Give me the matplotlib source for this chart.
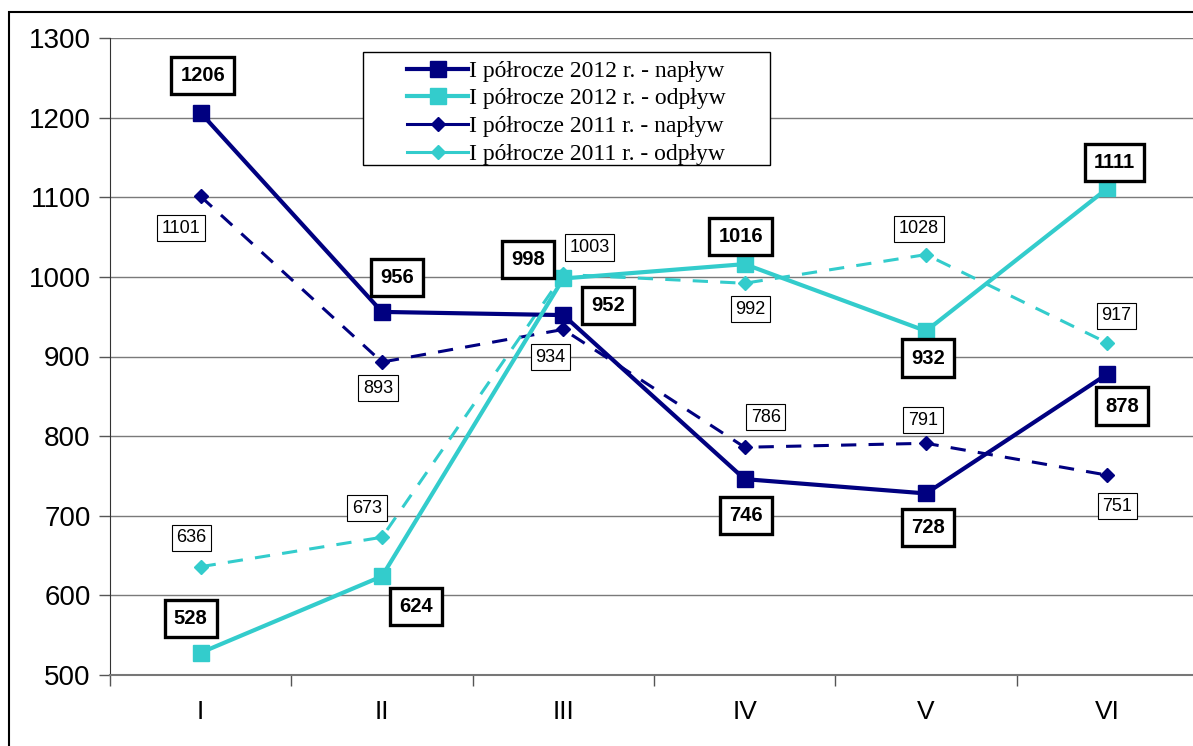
import matplotlib
matplotlib.use("Agg")
import matplotlib.pyplot as plt
from matplotlib.patches import Rectangle

months = ["I", "II", "III", "IV", "V", "VI"]
naplyw_2012 = [1206, 956, 952, 746, 728, 878]
odplyw_2012 = [528, 624, 998, 1016, 932, 1111]
naplyw_2011 = [1101, 893, 934, 786, 791, 751]
odplyw_2011 = [636, 673, 1003, 992, 1028, 917]
series_names = ["I półrocze 2012 r. - napływ", "I półrocze 2012 r. - odpływ",
                "I półrocze 2011 r. - napływ", "I półrocze 2011 r. - odpływ"]
y_ticks = [500, 600, 700, 800, 900, 1000, 1100, 1200, 1300]

# label offsets in pixels (dx, dy up positive)
off_n12 = [(2, 37), (15, 34), (45, 10), (1, -36), (2, -34), (15, -32)]
off_o12 = [(-10, 34), (34, -30), (-35, 19), (-4, 28), (2, -27), (7, 26)]
off_n11 = [(-20, -32), (-4, -26), (-13, -28), (21, 30), (-3, 23), (10, -31)]
off_o11 = [(-9, 29), (-15, 29), (26, 27), (6, -26), (-7, 26), (9, 27)]

NAVY = "#000080"
TURQ = "#33CCCC"

W, H = 1193, 746
fig = plt.figure(figsize=(W / 100, H / 100), dpi=100)
ax = fig.add_axes([110 / W, 1 - 675 / H, 1088 / W, (675 - 38) / H])

x = list(range(len(months)))
ax.plot(x, naplyw_2011, color=NAVY, lw=2.2, ls=(0, (5, 4)), marker="D", ms=7,
        label=series_names[2], zorder=3)
ax.plot(x, odplyw_2011, color=TURQ, lw=2.2, ls=(0, (5, 4)), marker="D", ms=7,
        label=series_names[3], zorder=3)
ax.plot(x, naplyw_2012, color=NAVY, lw=3, marker="s", ms=11.5,
        label=series_names[0], zorder=4)
ax.plot(x, odplyw_2012, color=TURQ, lw=3, marker="s", ms=11.5,
        label=series_names[1], zorder=4)

def labels(vals, offs, bold):
    for xi, v, (dx, dy) in zip(x, vals, offs):
        ax.annotate(str(v), (xi, v), xytext=(dx, dy), textcoords="offset pixels",
                    ha="center", va="center",
                    fontsize=14.5 if bold else 13,
                    fontweight="bold" if bold else "normal",
                    family="Liberation Sans", zorder=6,
                    bbox=dict(boxstyle="square,pad=0.45" if bold else "square,pad=0.25",
                              fc="white", ec="black", lw=2.4 if bold else 0.8))

labels(naplyw_2012, off_n12, True)
labels(odplyw_2012, off_o12, True)
labels(naplyw_2011, off_n11, False)
labels(odplyw_2011, off_o11, False)

ax.set_xlim(-0.5, 5.5)
ax.set_ylim(500, 1300)
ax.set_yticks(y_ticks)
ax.set_yticklabels([str(t) for t in y_ticks], family="Liberation Sans", fontsize=20)
ax.set_xticks(x)
ax.set_xticklabels(months, family="Liberation Sans", fontsize=19)
ax.tick_params(axis="x", length=0, pad=18)
ax.set_xticks([i - 0.5 for i in range(7)], minor=True)
ax.tick_params(axis="x", which="minor", length=8, width=1, color="#555555", direction="out")
ax.tick_params(axis="y", length=8, width=1, color="#555555", direction="out", pad=6)
ax.grid(axis="y", color="#7a7a7a", lw=1)
ax.set_axisbelow(True)
for s in ["top", "right"]:
    ax.spines[s].set_visible(False)
ax.spines["left"].set_color("#333333")
ax.spines["bottom"].set_color("#777777")
ax.spines["bottom"].set_linewidth(1.5)

# legend box drawn separately
lx0, ly0, lx1, ly1 = 363, 52, 770, 165
fig.patches.append(Rectangle((lx0 / W, 1 - ly1 / H), (lx1 - lx0) / W, (ly1 - ly0) / H,
                             transform=fig.transFigure, fc="white", ec="black",
                             lw=1, zorder=5))
handles, labs = ax.get_legend_handles_labels()
order = [2, 3, 0, 1]
leg = fig.legend([handles[i] for i in order], [labs[i] for i in order],
                 loc="center", bbox_to_anchor=((lx0 + lx1) / 2 / W, 1 - ((ly0 + ly1) / 2 + 4) / H),
                 bbox_transform=fig.transFigure,
                 prop={"family": "Liberation Serif", "size": 17},
                 frameon=False, handlelength=2.6, handletextpad=0.05,
                 labelspacing=0.26, borderpad=0, borderaxespad=0)
leg.set_zorder(6)
for h in leg.get_lines():
    h.set_linestyle("-")

fig.patches.append(Rectangle((9 / W, -0.1), 1.2, 1 - 12 / H + 0.1,
                             transform=fig.transFigure, fill=False,
                             ec="black", lw=1.5))

fig.savefig("out.png", dpi=100)
